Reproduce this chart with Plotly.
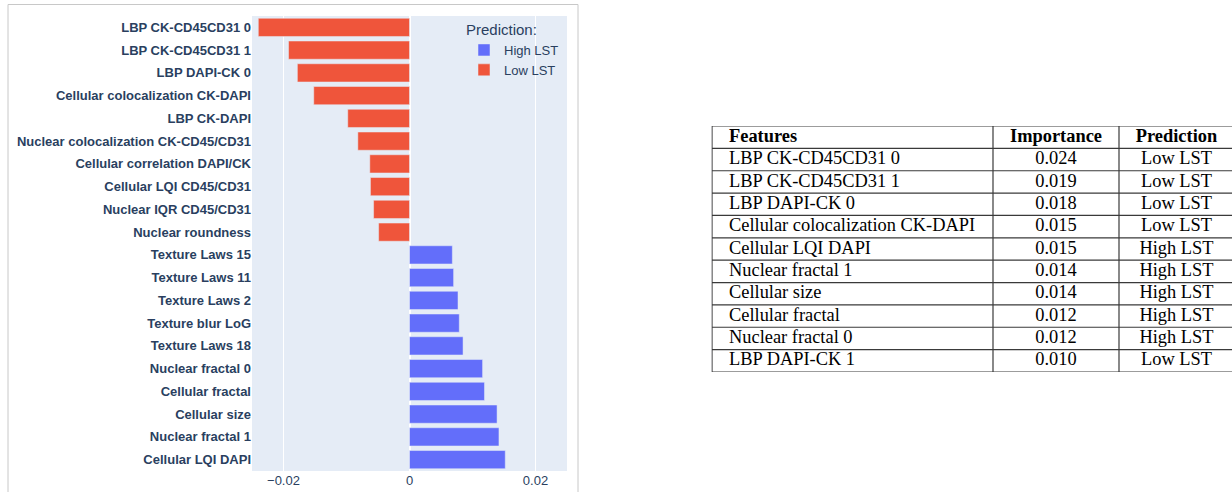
import plotly.graph_objects as go

# Feature importances (signed: negative = Low LST, positive = High LST), top to bottom
features = [
    "LBP CK-CD45CD31 0", "LBP CK-CD45CD31 1", "LBP DAPI-CK 0",
    "Cellular colocalization CK-DAPI", "LBP CK-DAPI",
    "Nuclear colocalization CK-CD45/CD31", "Cellular correlation DAPI/CK",
    "Cellular LQI CD45/CD31", "Nuclear IQR CD45/CD31", "Nuclear roundness",
    "Texture Laws 15", "Texture Laws 11", "Texture Laws 2", "Texture blur LoG",
    "Texture Laws 18", "Nuclear fractal 0", "Cellular fractal", "Cellular size",
    "Nuclear fractal 1", "Cellular LQI DAPI",
]
importance = [
    -0.0240, -0.0192, -0.0178, -0.0152, -0.0098,
    -0.0082, -0.0063, -0.0062, -0.0057, -0.0049,
    0.0068, 0.0070, 0.0077, 0.0079, 0.0085,
    0.0116, 0.0119, 0.0139, 0.0142, 0.0152,
]
prediction = ["Low LST"] * 10 + ["High LST"] * 10

# Top-10 table
table_features = [
    "LBP CK-CD45CD31 0", "LBP CK-CD45CD31 1", "LBP DAPI-CK 0",
    "Cellular colocalization CK-DAPI", "Cellular LQI DAPI", "Nuclear fractal 1",
    "Cellular size", "Cellular fractal", "Nuclear fractal 0", "LBP DAPI-CK 1",
]
table_importance = [0.024, 0.019, 0.018, 0.015, 0.015, 0.014, 0.014, 0.012, 0.012, 0.010]
table_prediction = ["Low LST", "Low LST", "Low LST", "Low LST", "High LST",
                    "High LST", "High LST", "High LST", "High LST", "Low LST"]
table_headers = ["Features", "Importance", "Prediction"]

colors = {"High LST": "#636efa", "Low LST": "#EF553B"}

W, H = 1232, 492
fig = go.Figure()

# ---- bar chart ----
for label in ["High LST", "Low LST"]:
    ys = [f for f, p in zip(features, prediction) if p == label]
    xs = [v for v, p in zip(importance, prediction) if p == label]
    fig.add_trace(go.Bar(
        x=xs, y=ys, orientation="h", name=label,
        marker=dict(color=colors[label], line=dict(color="#E5ECF6", width=0.5)),
        xaxis="x", yaxis="y",
    ))

# ---- table drawn on its own axes: one unit per pixel across, one unit per row down ----
col_widths = [281, 126, 115]
col_edges = [0]
for w in col_widths:
    col_edges.append(col_edges[-1] + w)
n_rows = len(table_features) + 1
serif = "Liberation Serif, Times New Roman, serif"
text_size = 18.4

rows_text = [[f"<b>{h}</b>" for h in table_headers]] + [
    [f, f"{v:.3f}", p] for f, v, p in zip(table_features, table_importance, table_prediction)
]
left_pad = 17
# first column: left aligned
fig.add_trace(go.Scatter(
    x=[left_pad] * n_rows, y=[r + 0.5 for r in range(n_rows)],
    text=[row[0] for row in rows_text], mode="text", textposition="middle right",
    textfont=dict(family=serif, size=text_size, color="black"),
    xaxis="x2", yaxis="y2", showlegend=False, hoverinfo="skip",
))
# other columns: centred
for c in (1, 2):
    cx = (col_edges[c] + col_edges[c + 1]) / 2
    fig.add_trace(go.Scatter(
        x=[cx] * n_rows, y=[r + 0.5 for r in range(n_rows)],
        text=[row[c] for row in rows_text], mode="text", textposition="middle center",
        textfont=dict(family=serif, size=text_size, color="black"),
        xaxis="x2", yaxis="y2", showlegend=False, hoverinfo="skip",
    ))

line_style = dict(color="#3a3a3a", width=1.2)
shapes = [
    # white ground for the table area
    dict(type="rect", xref="x2 domain", yref="y2 domain", x0=0, x1=1, y0=0, y1=1,
         line=dict(width=0), fillcolor="white", layer="below"),
    # frame around the chart
    dict(type="rect", xref="paper", yref="paper",
         x0=8 / W, x1=578 / W, y0=-0.1, y1=1 - 4.5 / H,
         line=dict(color="#c8c8c8", width=1), fillcolor="rgba(0,0,0,0)", layer="below"),
]
for r in range(n_rows + 1):
    shapes.append(dict(type="line", xref="x2", yref="y2",
                       x0=col_edges[0], x1=col_edges[-1], y0=r, y1=r, line=line_style))
for e in col_edges:
    shapes.append(dict(type="line", xref="x2", yref="y2",
                       x0=e, x1=e, y0=0, y1=n_rows, line=line_style))

fig.update_layout(
    template="plotly",
    width=W, height=H,
    margin=dict(l=0, r=0, t=0, b=0),
    barmode="relative",
    bargap=0.2,
    font=dict(family="Arial, Liberation Sans, sans-serif", size=13, color="#2a3f5f"),
    xaxis=dict(
        domain=[252 / W, 567 / W], anchor="y",
        range=[-0.025, 0.025], tick0=0, dtick=0.02,
        tickfont=dict(size=13),
    ),
    yaxis=dict(
        domain=[1 - 471 / H, 1 - 16 / H], anchor="x",
        categoryorder="array", categoryarray=features,
        autorange="reversed",
        tickfont=dict(size=13, weight="bold"),
    ),
    xaxis2=dict(
        domain=[711.5 / W, 1.0], anchor="y2",
        range=[-0.5, 1232 - 711.5 - 0.5], visible=False, showgrid=False, zeroline=False,
        fixedrange=True,
    ),
    yaxis2=dict(
        domain=[1 - 372 / H, 1 - 126 / H], anchor="x2",
        range=[n_rows, 0], visible=False, showgrid=False, zeroline=False,
        fixedrange=True,
    ),
    legend=dict(
        title=dict(text="Prediction:", font=dict(size=15)),
        x=464 / W, xanchor="left", y=1 - 15.5 / H, yanchor="top",
        bgcolor="rgba(0,0,0,0)",
        font=dict(size=13),
    ),
    shapes=shapes,
)

fig.write_html("out.html")
